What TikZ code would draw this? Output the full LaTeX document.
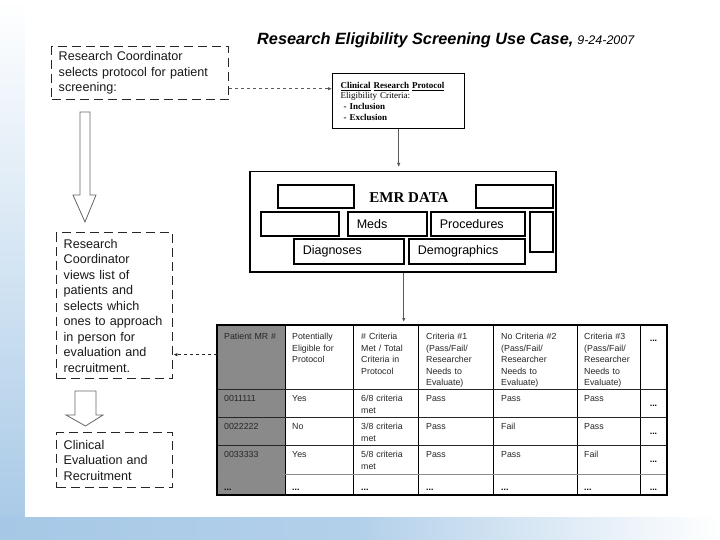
\documentclass[tikz,border=0pt]{standalone}
\usepackage{fontspec}
\setmainfont{Liberation Sans}
\newfontfamily\serifface{Liberation Serif}
\usetikzlibrary{arrows.meta}
\definecolor{bgblue}{RGB}{166,200,230}
\definecolor{cellgray}{RGB}{138,138,138}
\definecolor{conngray}{RGB}{90,90,90}
\hyphenpenalty=10000
\begin{document}
\begin{tikzpicture}[x=1pt,y=-1pt,
  dashbox/.style={draw=black!85, line width=1.4pt, dash pattern=on 9pt off 5pt,
    anchor=north west, align=left, inner xsep=7pt, inner ysep=0pt,
    text=black!90, font=\fontsize{12.6}{15.5}\selectfont},
  ebox/.style={draw, line width=1.6pt, anchor=north west, inner xsep=9pt, inner ysep=0pt,
    align=left, font=\fontsize{12.5}{14}\selectfont},
  conn/.style={draw=conngray, line width=0.8pt, -{Latex[length=4pt,width=3.5pt]}},
  dconn/.style={conn, dashed},
  hollow/.style={draw=black!60, line width=0.8pt, fill=white},
  tcell/.style={anchor=north west, align=left, inner sep=0pt, text=black!85, text width=64pt,
    font=\fontsize{8.8}{11.5}\selectfont},
  tdots/.style={anchor=base, inner sep=0pt, font=\fontsize{8.8}{11.5}\selectfont\bfseries},
]
\useasboundingbox (0,0) rectangle (720,540);
% background
\shade[top color=white, middle color=bgblue!75, bottom color=bgblue] (0,0) rectangle (25,540);
\shade[left color=bgblue, right color=white, middle color=bgblue!85] (0,517) rectangle (720,540);
\fill[white] (25,0) rectangle (720,517);

% title
\node[anchor=base west, inner sep=0pt] (title) at (257,45)
  {\fontsize{16.3}{18}\selectfont\bfseries\itshape Research Eligibility Screening Use Case,\hspace{4pt}{\mdseries\fontsize{12.5}{14}\selectfont 9-24-2007}};

% left column boxes
\node[dashbox, minimum width=177, minimum height=53, text width=163] (box1) at (51,46)
  {Research Coordinator\\selects protocol for patient\\screening:};
\node[dashbox, minimum width=116, minimum height=146, text width=102] (box2) at (56,232)
  {Research\\Coordinator\\views list of\\patients and\\selects which\\ones to approach\\in person for\\evaluation and\\recruitment.};
\node[dashbox, minimum width=116, minimum height=55, text width=102] (box3) at (56,432)
  {Clinical\\Evaluation and\\Recruitment};

% hollow arrows
\draw[hollow] (80,112) -- (90,112) -- (90,195) -- (96,195) -- (85,222) -- (73,195) -- (80,195) -- cycle;
\draw[hollow] (75,391) -- (96,391) -- (96,415) -- (103,415) -- (85.5,426) -- (66,415) -- (75,415) -- cycle;

% protocol box
\node[draw, line width=1.4pt, anchor=north west, minimum width=132, minimum height=55,
  text width=116, inner xsep=8pt, inner ysep=0pt, align=left,
  font=\serifface\fontsize{9}{10.7}\selectfont] (proto) at (332,73)
  {\textbf{\underline{Clinical} \underline{Research} \underline{Protocol}}\\Eligibility Criteria:\\\hspace*{3pt}\textbf{- Inclusion}\\\hspace*{3pt}\textbf{- Exclusion}};

\coordinate (c1) at ([yshift=-15.5pt]box1.east);
\draw[dconn] (c1) -- (c1 -| proto.west);

% EMR data
\node[draw, line width=1.5pt, anchor=north west, minimum width=306, minimum height=100] (emr) at (249,171) {};
\node[ebox, minimum width=76, minimum height=23] (e1) at (277,184) {};
\node[ebox, minimum width=77, minimum height=23] (e2) at (475,184) {};
\node[inner sep=0pt, font=\serifface\bfseries\fontsize{15}{17}\selectfont] (emrlabel) at (409,198) {EMR DATA};
\node[ebox, minimum width=78, minimum height=24] (e3) at (260,211) {};
\node[ebox, minimum width=79, minimum height=24, text width=61] (meds) at (347,211) {Meds};
\node[ebox, minimum width=94, minimum height=24, text width=76] (proc) at (430,211) {Procedures};
\node[ebox, minimum width=23, minimum height=40] (e4) at (529,211) {};
\node[ebox, minimum width=110, minimum height=25, text width=92] (diag) at (293,238) {Diagnoses};
\node[ebox, minimum width=116, minimum height=25, text width=98] (demo) at (408,238) {Demographics};

\draw[conn] (proto.south) -- ([yshift=4pt]proto.south |- emr.north);

% table
\fill[cellgray] (217,325) rectangle (285,495);
\foreach \x in {285,353,418,493,577,640} \draw[black, line width=1pt] (\x,325) -- (\x,495);
\foreach \y in {389,417,445} \draw[black!85, line width=1pt] (217,\y) -- (667,\y);
\draw[black!45, line width=1pt] (217,474) -- (667,474);
\node[draw, line width=2pt, anchor=north west, minimum width=450, minimum height=170, inner sep=0pt, outer sep=0pt] (tbl) at (217,325) {};

\draw[conn] ([xshift=1pt]emr.south) -- ([xshift=1pt,yshift=3pt]emr.south |- tbl.north);

% header
\node[tcell] (h1) at (224,333) {Patient MR \#};
\node[tcell] (h2) at (292,333) {Potentially\\Eligible for\\Protocol};
\node[tcell] (h3) at (361,333) {\# Criteria\\Met / Total\\Criteria in\\Protocol};
\node[tcell] (h4) at (426,333) {Criteria \#1\\(Pass/Fail/\\Researcher\\Needs to\\Evaluate)};
\node[tcell] (h5) at (501,333) {No Criteria \#2\\(Pass/Fail/\\Researcher\\Needs to\\Evaluate)};
\node[tcell] (h6) at (584,333) {Criteria \#3\\(Pass/Fail/\\Researcher\\Needs to\\Evaluate)};
\node[tdots] (h7) at (653.5,341) {...};
% row 1
\node[tcell] (r1a) at (224,395) {0011111};
\node[tcell] (r1b) at (292,395) {Yes};
\node[tcell] (r1c) at (361,395) {6/8 criteria\\met};
\node[tcell] (r1d) at (426,395) {Pass};
\node[tcell] (r1e) at (501,395) {Pass};
\node[tcell] (r1f) at (584,395) {Pass};
\node[tdots] (r1g) at (653.5,406) {...};
% row 2
\node[tcell] (r2a) at (224,423) {0022222};
\node[tcell] (r2b) at (292,423) {No};
\node[tcell] (r2c) at (361,423) {3/8 criteria\\met};
\node[tcell] (r2d) at (426,423) {Pass};
\node[tcell] (r2e) at (501,423) {Fail};
\node[tcell] (r2f) at (584,423) {Pass};
\node[tdots] (r2g) at (653.5,434) {...};
% row 3
\node[tcell] (r3a) at (224,451) {0033333};
\node[tcell] (r3b) at (292,451) {Yes};
\node[tcell] (r3c) at (361,451) {5/8 criteria\\met};
\node[tcell] (r3d) at (426,451) {Pass};
\node[tcell] (r3e) at (501,451) {Pass};
\node[tcell] (r3f) at (584,451) {Fail};
\node[tdots] (r3g) at (653.5,462) {...};
% row 4
\node[tdots, anchor=base west] (r4a) at (224,490) {...};
\node[tdots, anchor=base west] (r4b) at (292,490) {...};
\node[tdots, anchor=base west] (r4c) at (361,490) {...};
\node[tdots, anchor=base west] (r4d) at (426,490) {...};
\node[tdots, anchor=base west] (r4e) at (501,490) {...};
\node[tdots, anchor=base west] (r4f) at (584,490) {...};
\node[tdots] (r4g) at (653.5,490) {...};

\coordinate (c2) at ([yshift=-49pt]box2.east);
\draw[dconn, draw=black!85] (c2 -| tbl.west) -- (c2);
\end{tikzpicture}
\end{document}
